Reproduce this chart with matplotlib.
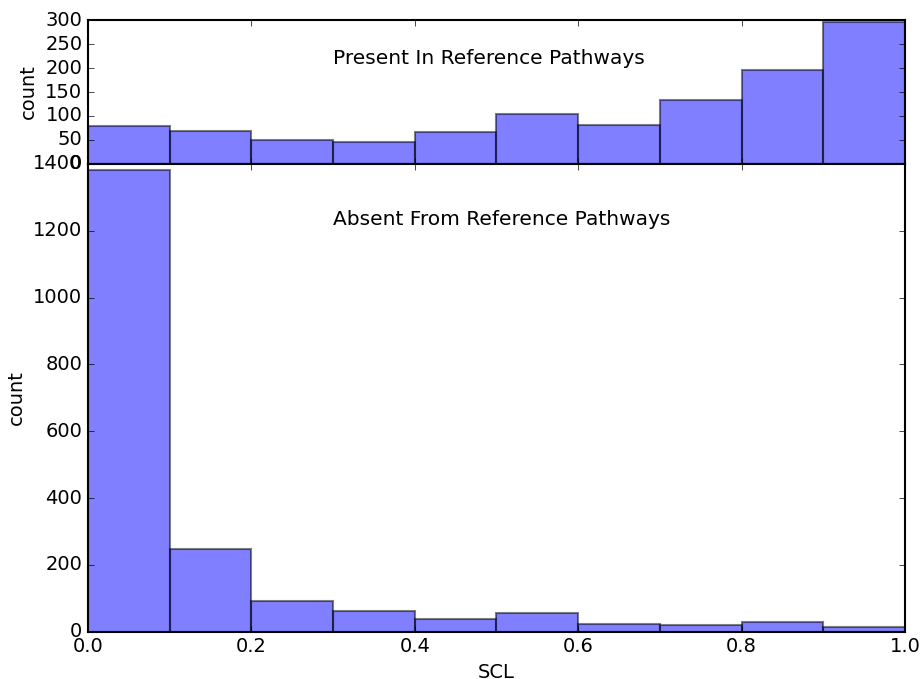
import matplotlib
matplotlib.use('Agg')
import matplotlib.pyplot as plt

# SCL histogram counts, 10 bins of width 0.1 over [0, 1]
bin_edges = [0.0, 0.1, 0.2, 0.3, 0.4, 0.5, 0.6, 0.7, 0.8, 0.9, 1.0]
present_counts = [79, 69, 50, 46, 66, 104, 82, 133, 196, 295]
absent_counts = [1383, 247, 91, 61, 38, 55, 22, 20, 28, 15]

plt.style.use('classic')
plt.rcParams['font.size'] = 14
plt.rcParams['axes.linewidth'] = 1.5

fig = plt.figure(figsize=(9.23, 6.79), dpi=100)
ax_top = fig.add_axes([0.0953, 0.7585, 0.8852, 0.2120])
ax_bot = fig.add_axes([0.0953, 0.0697, 0.8852, 0.6888])

lefts = bin_edges[:-1]
width = bin_edges[1] - bin_edges[0]

ax_top.bar(lefts, present_counts, width=width, align='edge',
           color='blue', edgecolor='black', alpha=0.5, linewidth=1.5)
ax_top.set_xlim(0, 1)
ax_top.set_ylim(0, 300)
ax_top.set_yticks(range(0, 301, 50))
ax_top.set_xticklabels([])
ax_top.set_ylabel('count')
ax_top.text(0.3, 220, 'Present In Reference Pathways', fontsize=14.5, va='center')

ax_bot.bar(lefts, absent_counts, width=width, align='edge',
           color='blue', edgecolor='black', alpha=0.5, linewidth=1.5)
ax_bot.set_xlim(0, 1)
ax_bot.set_ylim(0, 1400)
ax_bot.set_yticks(range(0, 1401, 200))
ax_bot.set_xlabel('SCL')
ax_bot.set_ylabel('count')
ax_bot.text(0.3, 1235, 'Absent From Reference Pathways', fontsize=14.5, va='center')

fig.savefig('out.png', dpi=100)
